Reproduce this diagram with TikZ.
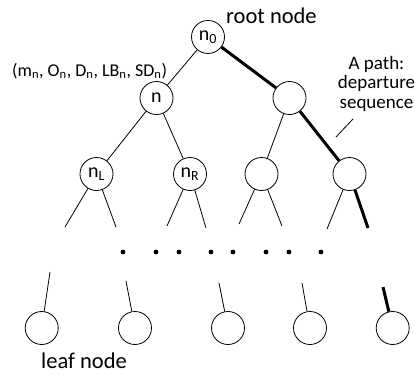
\documentclass[tikz,border=0pt]{standalone}
\usepackage{fontspec}
\setmainfont{Carlito}
\begin{document}
\begin{tikzpicture}[x=1pt,y=-1pt,
  tn/.style={draw, circle, minimum size=33pt, inner sep=0pt, line width=0.8pt,
    font=\fontsize{20}{22}\selectfont},
  edgethin/.style={line width=0.8pt},
  pathedge/.style={line width=3pt},
  lbl/.style={font=\fontsize{22.5}{24}\selectfont, inner sep=0pt},
  plbl/.style={font=\fontsize{19}{19.5}\selectfont, inner sep=0pt, align=center},
  dotmark/.style={fill=black}
]
\useasboundingbox (0,0) rectangle (415,375);
% tree nodes
\node[tn] (n0) at (208,37) {n\textsubscript{0}};
\node[tn] (n)  at (156.5,98) {n};
\node[tn] (r1) at (289.5,98) {};
\node[tn] (nL) at (96.5,174) {n\textsubscript{L}};
\node[tn] (nR) at (190,174) {n\textsubscript{R}};
\node[tn] (c3) at (261.5,174) {};
\node[tn] (c4) at (349.5,174) {};
% leaves
\node[tn] (l1) at (41.7,328) {};
\node[tn] (l2) at (135,328) {};
\node[tn] (l3) at (228,328) {};
\node[tn] (l4) at (310,328) {};
\node[tn] (l5) at (392.7,328) {};
% edges
\draw[edgethin] (n0) -- (n);
\draw[pathedge] (n0) -- (r1);
\draw[edgethin] (n) -- (nL);
\draw[edgethin] (n) -- (nR);
\draw[edgethin] (r1) -- (c3);
\draw[pathedge] (r1) -- (c4);
% stubs below level 2
\coordinate (aL1) at (65,227);  \coordinate (aL2) at (116,227);
\coordinate (aR1) at (167,226); \coordinate (aR2) at (206,228);
\coordinate (a31) at (239,224); \coordinate (a32) at (282,226);
\coordinate (a41) at (327,229); \coordinate (a42) at (368,228);
\draw[edgethin] (nL) -- (aL1);
\draw[edgethin] (nL) -- (aL2);
\draw[edgethin] (nR) -- (aR1);
\draw[edgethin] (nR) -- (aR2);
\draw[edgethin] (c3) -- (a31);
\draw[edgethin] (c3) -- (a32);
\draw[edgethin] (c4) -- (a41);
\draw[pathedge] (c4) -- (a42);
% stubs above leaves
\coordinate (b1) at (50,272);
\coordinate (b2) at (126,281);
\coordinate (b3) at (219,283);
\coordinate (b4) at (302,283);
\coordinate (b5) at (383,287);
\draw[edgethin] (l1) -- (b1);
\draw[edgethin] (l2) -- (b2);
\draw[edgethin] (l3) -- (b3);
\draw[edgethin] (l4) -- (b4);
\draw[pathedge] (l5) -- (b5);
% dots
\foreach \xx in {123,156,179,211,233,266,289,321}
  \fill[dotmark] (\xx,252) circle (2.4pt);
% labels
\node[lbl, anchor=base west] (root) at (226,23) {root node};
\node[lbl, anchor=base west] (leaf) at (41,368) {leaf node};
\node[font=\fontsize{18}{20}\selectfont, inner sep=0pt, anchor=base west] (tuple) at (12,76)
  {(m\textsubscript{n}, O\textsubscript{n}, D\textsubscript{n}, LB\textsubscript{n}, SD\textsubscript{n})};
\node[plbl, anchor=base] (pathlbl) at (376.5,108) {A path:\\departure\\sequence};
\coordinate (p1) at (353,119);
\coordinate (p2) at (336,137);
\draw[edgethin] (p1) -- (p2);
\end{tikzpicture}
\end{document}
